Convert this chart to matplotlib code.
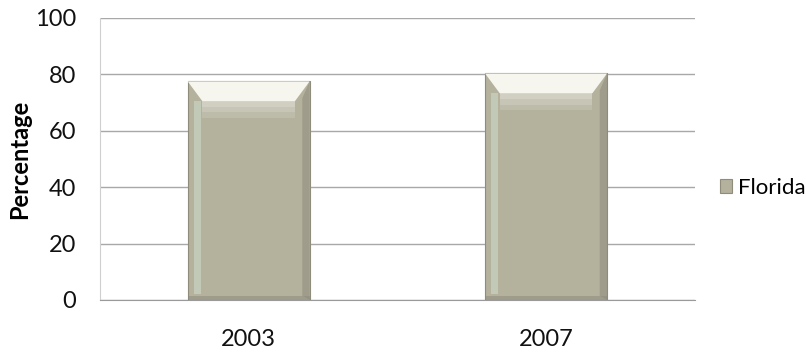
"""Florida percentage, 2003 vs 2007 (bevelled column chart)."""

import matplotlib
matplotlib.use("Agg")
import matplotlib.pyplot as plt
from matplotlib.patches import Polygon, Rectangle

years = ["2003", "2007"]
florida = [77.5, 80.3]
yticks = [0, 20, 40, 60, 80, 100]

BAR_COLOR = "#b4b19d"
GRID_COLOR = "#a8a8a8"
FS = 17

plt.rcParams["font.family"] = ["Lato", "DejaVu Sans"]

fig = plt.figure(figsize=(8.06, 3.52), dpi=100)
ax = fig.add_axes([0.124, 0.148, 0.738, 0.801])

x = list(range(len(years)))
bars = ax.bar(x, florida, width=0.41, color=BAR_COLOR, edgecolor="#8f8c7c",
              linewidth=0.8, label="Florida", zorder=3)

# fake bevel: light top band fading down, darker right edge, pale left strip
for b in bars:
    x0, w, h = b.get_x(), b.get_width(), b.get_height()
    d = w * 0.12
    ax.add_patch(Polygon([(x0, h), (x0 + w, h), (x0 + w - d, h - 7), (x0 + d, h - 7)],
                         closed=True, facecolor="#f6f5ee", edgecolor="none", zorder=4))
    for i, a in enumerate([0.45, 0.3, 0.15]):
        ax.add_patch(Rectangle((x0 + d, h - 9 - 2 * i), w - 2 * d, 2,
                               facecolor="#f6f5ee", edgecolor="none", alpha=a, zorder=4))
    ax.add_patch(Polygon([(x0 + w, h), (x0 + w, 0), (x0 + w - d * 0.5, 1.5),
                          (x0 + w - d * 0.5, h - 6)], closed=True,
                         facecolor="#8e8b7d", edgecolor="none", alpha=0.55, zorder=4))
    ax.add_patch(Rectangle((x0 + d * 0.4, 2), d * 0.5, h - 9,
                           facecolor="#cddcca", edgecolor="none", alpha=0.6, zorder=4))
    ax.add_patch(Rectangle((x0, 0), w, 1.5, facecolor="#8e8b7d",
                           edgecolor="none", alpha=0.55, zorder=4))

ax.set_ylim(0, 100)
ax.set_xlim(-0.5, len(years) - 0.5)
ax.set_yticks(yticks)
ax.set_xticks(x)
ax.set_xticklabels(years)
ax.yaxis.grid(True, color=GRID_COLOR, linewidth=1.0, zorder=0)
ax.set_axisbelow(True)

for side in ["top", "right"]:
    ax.spines[side].set_visible(False)
ax.spines["left"].set_color("#cfcfcf")
ax.spines["bottom"].set_color("#9a9a9a")

ax.tick_params(axis="both", length=0, labelsize=FS, colors="#111111")
ax.tick_params(axis="y", pad=17)
ax.tick_params(axis="x", pad=21)
ax.set_ylabel("Percentage", fontsize=17, fontweight="bold")
ax.yaxis.set_label_coords(-0.116, 0.5)

ax.legend(loc="center left", bbox_to_anchor=(0.893, 0.466),
          bbox_transform=fig.transFigure, frameon=False, fontsize=16,
          handlelength=0.55, handleheight=0.55, handletextpad=0.25,
          borderaxespad=0, borderpad=0)

fig.savefig("out.png", dpi=100)
plt.close(fig)
